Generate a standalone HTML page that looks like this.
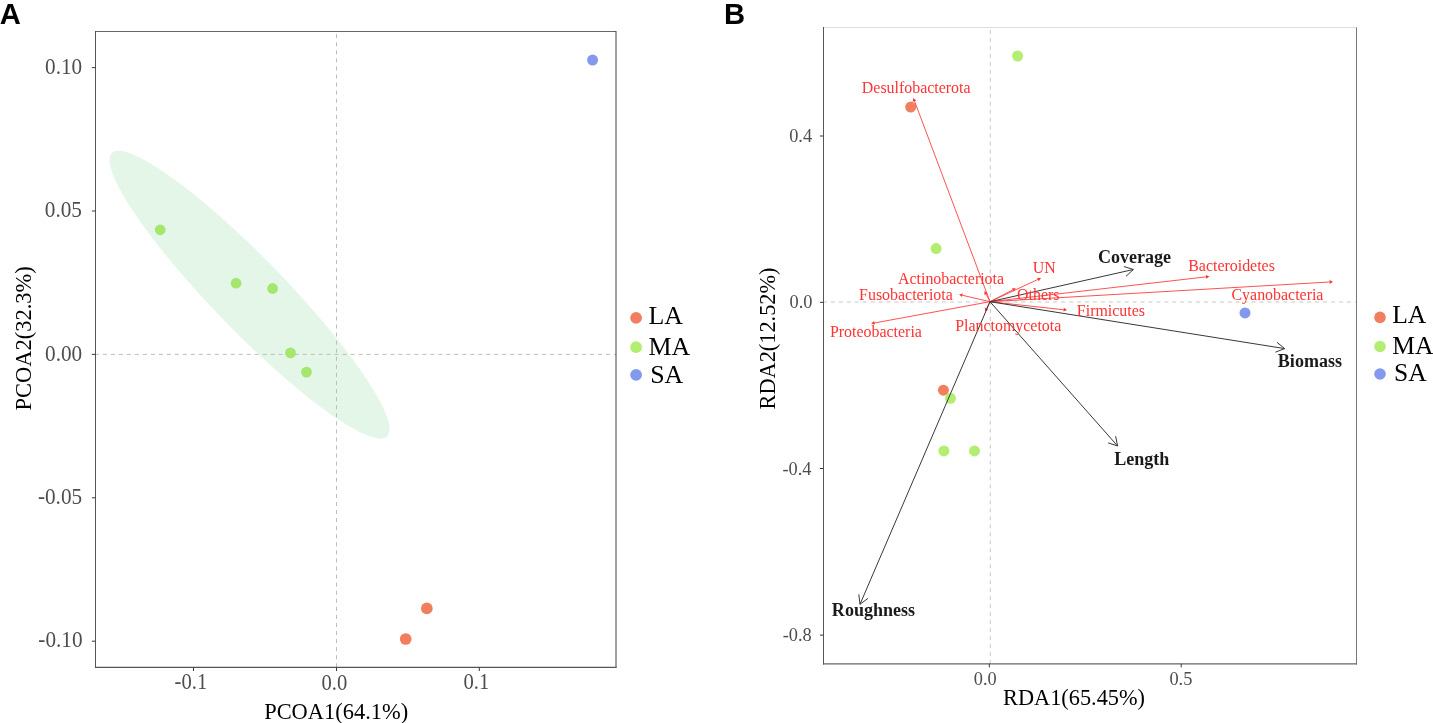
<!DOCTYPE html>
<html><head><meta charset="utf-8"><style>
html,body{margin:0;padding:0;background:#fff;width:1433px;height:723px;overflow:hidden}
svg{display:block;will-change:transform}
text{font-family:"Liberation Serif",serif}
</style></head><body>
<svg width="1433" height="723" viewBox="0 0 1433 723">
<rect width="1433" height="723" fill="#fff"/>

<ellipse cx="249.6" cy="294.75" rx="197.6" ry="36.2" transform="rotate(45.83 249.6 294.75)" fill="#e4f6e8"/>
<line x1="336.5" y1="34.2" x2="336.5" y2="667.4" stroke="#bdbdbd" stroke-width="1" stroke-dasharray="4.03 4.035"/>
<line x1="95.0" y1="354.4" x2="616.0" y2="354.4" stroke="#bdbdbd" stroke-width="1" stroke-dasharray="3.99 3.995"/>
<circle cx="160.2" cy="229.8" r="5.4" fill="#a5e66e"/>
<circle cx="236.1" cy="283.2" r="5.4" fill="#a5e66e"/>
<circle cx="272.6" cy="288.5" r="5.4" fill="#a5e66e"/>
<circle cx="290.5" cy="352.9" r="5.4" fill="#a5e66e"/>
<circle cx="306.5" cy="372.1" r="5.4" fill="#a5e66e"/>
<circle cx="426.8" cy="608.4" r="5.85" fill="#f07f5f"/>
<circle cx="405.7" cy="639.0" r="5.85" fill="#f07f5f"/>
<circle cx="592.6" cy="60.1" r="5.5" fill="#8399ee"/>
<line x1="95.5" y1="31.5" x2="616" y2="31.5" stroke="#666" stroke-width="1"/>
<line x1="616" y1="31" x2="616" y2="667.9" stroke="#444" stroke-width="1"/>
<line x1="95" y1="667.4" x2="616.5" y2="667.4" stroke="#555" stroke-width="1.1"/>
<line x1="95.5" y1="31" x2="95.5" y2="667.9" stroke="#555" stroke-width="1"/>
<line x1="193.5" y1="667.4" x2="193.5" y2="671.0" stroke="#383838" stroke-width="1"/>
<line x1="336.5" y1="667.4" x2="336.5" y2="671.0" stroke="#383838" stroke-width="1"/>
<line x1="479.3" y1="667.4" x2="479.3" y2="671.0" stroke="#383838" stroke-width="1"/>
<line x1="91.9" y1="67.6" x2="95.4" y2="67.6" stroke="#383838" stroke-width="1"/>
<line x1="91.9" y1="211.0" x2="95.4" y2="211.0" stroke="#383838" stroke-width="1"/>
<line x1="91.9" y1="354.4" x2="95.4" y2="354.4" stroke="#383838" stroke-width="1"/>
<line x1="91.9" y1="497.8" x2="95.4" y2="497.8" stroke="#383838" stroke-width="1"/>
<line x1="91.9" y1="641.2" x2="95.4" y2="641.2" stroke="#383838" stroke-width="1"/>
<circle cx="636.1" cy="317.9" r="5.9" fill="#f07f5f"/>
<circle cx="636.1" cy="347.2" r="5.9" fill="#b3ee73"/>
<circle cx="636.1" cy="374.8" r="5.9" fill="#8399ee"/>
<line x1="990.3" y1="29.9" x2="990.3" y2="663.8" stroke="#c8c8c8" stroke-width="1" stroke-dasharray="3.99 3.985"/>
<line x1="823.06" y1="302.0" x2="1356.3" y2="302.0" stroke="#c8c8c8" stroke-width="1" stroke-dasharray="3.97 3.9675"/>
<circle cx="910.7" cy="107.1" r="5.5" fill="#f07f5f"/>
<circle cx="943.4" cy="390.2" r="5.5" fill="#f07f5f"/>
<circle cx="1017.6" cy="56.0" r="5.5" fill="#b3ee73"/>
<circle cx="936.1" cy="248.6" r="5.5" fill="#b3ee73"/>
<circle cx="950.5" cy="398.3" r="5.5" fill="#b3ee73"/>
<circle cx="943.9" cy="450.9" r="5.5" fill="#b3ee73"/>
<circle cx="974.5" cy="450.9" r="5.5" fill="#b3ee73"/>
<circle cx="1245" cy="312.9" r="5.5" fill="#8399ee"/>
<line x1="990.0" y1="301.7" x2="914.50" y2="101.08" stroke="#ff3333" stroke-width="0.85"/>
<path d="M913.30 97.90 L916.28 100.41 L912.72 101.75 Z" fill="#ff3333"/>
<line x1="990.0" y1="301.7" x2="986.05" y2="294.02" stroke="#ff3333" stroke-width="0.85"/>
<path d="M984.50 291.00 L987.74 293.16 L984.36 294.89 Z" fill="#ff3333"/>
<line x1="990.0" y1="301.7" x2="962.41" y2="295.27" stroke="#ff3333" stroke-width="0.85"/>
<path d="M959.10 294.50 L962.84 293.42 L961.98 297.12 Z" fill="#ff3333"/>
<line x1="990.0" y1="301.7" x2="1037.92" y2="279.43" stroke="#ff3333" stroke-width="0.85"/>
<path d="M1041.00 278.00 L1038.72 281.16 L1037.12 277.71 Z" fill="#ff3333"/>
<line x1="990.0" y1="301.7" x2="1012.78" y2="289.87" stroke="#ff3333" stroke-width="0.85"/>
<path d="M1015.80 288.30 L1013.66 291.55 L1011.91 288.18 Z" fill="#ff3333"/>
<line x1="990.0" y1="301.7" x2="874.54" y2="322.98" stroke="#ff3333" stroke-width="0.85"/>
<path d="M871.20 323.60 L874.20 321.12 L874.89 324.85 Z" fill="#ff3333"/>
<line x1="990.0" y1="301.7" x2="986.56" y2="308.38" stroke="#ff3333" stroke-width="0.85"/>
<path d="M985.00 311.40 L984.87 307.51 L988.25 309.25 Z" fill="#ff3333"/>
<line x1="990.0" y1="301.7" x2="1063.62" y2="309.73" stroke="#ff3333" stroke-width="0.85"/>
<path d="M1067.00 310.10 L1063.41 311.62 L1063.83 307.84 Z" fill="#ff3333"/>
<line x1="990.0" y1="301.7" x2="1206.02" y2="276.89" stroke="#ff3333" stroke-width="0.85"/>
<path d="M1209.40 276.50 L1206.24 278.78 L1205.81 275.00 Z" fill="#ff3333"/>
<line x1="990.0" y1="301.7" x2="1329.61" y2="282.00" stroke="#ff3333" stroke-width="0.85"/>
<path d="M1333.00 281.80 L1329.72 283.89 L1329.50 280.10 Z" fill="#ff3333"/>
<line x1="990.0" y1="301.7" x2="1133.40" y2="269.50" stroke="#383838" stroke-width="1"/>
<path d="M1123.85 266.52 L1133.40 269.50 L1126.05 276.28" fill="none" stroke="#383838" stroke-width="1"/>
<line x1="990.0" y1="301.7" x2="1284.70" y2="348.60" stroke="#383838" stroke-width="1"/>
<path d="M1276.93 342.30 L1284.70 348.60 L1275.36 352.18" fill="none" stroke="#383838" stroke-width="1"/>
<line x1="990.0" y1="301.7" x2="1117.60" y2="446.00" stroke="#383838" stroke-width="1"/>
<path d="M1115.61 436.20 L1117.60 446.00 L1108.12 442.82" fill="none" stroke="#383838" stroke-width="1"/>
<line x1="990.0" y1="301.7" x2="860.00" y2="604.30" stroke="#383838" stroke-width="1"/>
<path d="M868.01 598.32 L860.00 604.30 L858.82 594.37" fill="none" stroke="#383838" stroke-width="1"/>
<line x1="823.5" y1="27.5" x2="1356.5" y2="27.5" stroke="#ddd" stroke-width="1"/>
<line x1="1356.5" y1="27.5" x2="1356.5" y2="664.5" stroke="#777" stroke-width="1"/>
<line x1="823" y1="663.9" x2="1357" y2="663.9" stroke="#666" stroke-width="1.4"/>
<line x1="823.5" y1="27" x2="823.5" y2="664.5" stroke="#555" stroke-width="1"/>
<line x1="989.3" y1="663.8" x2="989.3" y2="667.4" stroke="#383838" stroke-width="1"/>
<line x1="1181.2" y1="663.8" x2="1181.2" y2="667.4" stroke="#383838" stroke-width="1"/>
<line x1="819.9" y1="136.0" x2="823.4" y2="136.0" stroke="#383838" stroke-width="1"/>
<line x1="819.9" y1="302.3" x2="823.4" y2="302.3" stroke="#383838" stroke-width="1"/>
<line x1="819.9" y1="468.5" x2="823.4" y2="468.5" stroke="#383838" stroke-width="1"/>
<line x1="819.9" y1="635.1" x2="823.4" y2="635.1" stroke="#383838" stroke-width="1"/>
<circle cx="1380" cy="317.4" r="5.8" fill="#f07f5f"/>
<circle cx="1380" cy="346.5" r="5.8" fill="#b3ee73"/>
<circle cx="1380" cy="374.0" r="5.8" fill="#8399ee"/>
<text transform="translate(-0.32 23.88) scale(1.0437 1.0675)" style="font-family:'Liberation Sans'" font-size="28" font-weight="bold" fill="#000">A</text>
<text transform="translate(45.06 73.72) scale(1.0106 1.0613)" style="font-family:'Liberation Serif'" font-size="21" font-weight="normal" fill="#4d4d4d">0.10</text>
<text transform="translate(44.78 216.95) scale(1.0106 1.0613)" style="font-family:'Liberation Serif'" font-size="21" font-weight="normal" fill="#4d4d4d">0.05</text>
<text transform="translate(45.03 360.57) scale(1.0106 1.0613)" style="font-family:'Liberation Serif'" font-size="21" font-weight="normal" fill="#4d4d4d">0.00</text>
<text transform="translate(37.92 503.76) scale(1.0106 1.0613)" style="font-family:'Liberation Serif'" font-size="21" font-weight="normal" fill="#4d4d4d">-0.05</text>
<text transform="translate(38.34 647.35) scale(1.0106 1.0613)" style="font-family:'Liberation Serif'" font-size="21" font-weight="normal" fill="#4d4d4d">-0.10</text>
<text transform="translate(174.56 689.45) scale(0.9825 1.0620)" style="font-family:'Liberation Serif'" font-size="21" font-weight="normal" fill="#4d4d4d">-0.1</text>
<text transform="translate(321.50 689.60) scale(0.9825 1.0620)" style="font-family:'Liberation Serif'" font-size="21" font-weight="normal" fill="#4d4d4d">0.0</text>
<text transform="translate(463.43 689.45) scale(0.9825 1.0620)" style="font-family:'Liberation Serif'" font-size="21" font-weight="normal" fill="#4d4d4d">0.1</text>
<text transform="translate(264.15 719.14) scale(1.0213 1.0546)" style="font-family:'Liberation Serif'" font-size="22" font-weight="normal" fill="#000">PCOA1(64.1%)</text>
<text transform="translate(31.14 410.42) rotate(-90) scale(1.0213 1.0546)" style="font-family:'Liberation Serif'" font-size="22" font-weight="normal" fill="#000">PCOA2(32.3%)</text>
<text transform="translate(648.40 323.90) scale(1.0787 1.0458)" style="font-family:'Liberation Serif'" font-size="24" font-weight="normal" fill="#000">LA</text>
<text transform="translate(648.38 355.14) scale(1.0787 1.0458)" style="font-family:'Liberation Serif'" font-size="24" font-weight="normal" fill="#000">MA</text>
<text transform="translate(650.19 382.51) scale(1.0787 1.0458)" style="font-family:'Liberation Serif'" font-size="24" font-weight="normal" fill="#000">SA</text>
<text transform="translate(724.12 23.82) scale(1.0437 1.0675)" style="font-family:'Liberation Sans'" font-size="28" font-weight="bold" fill="#000">B</text>
<text transform="translate(789.19 141.80) scale(0.9656 1.0160)" style="font-family:'Liberation Serif'" font-size="19" font-weight="normal" fill="#4d4d4d">0.4</text>
<text transform="translate(789.53 308.45) scale(0.9656 1.0160)" style="font-family:'Liberation Serif'" font-size="19" font-weight="normal" fill="#4d4d4d">0.0</text>
<text transform="translate(782.47 474.55) scale(0.9656 1.0160)" style="font-family:'Liberation Serif'" font-size="19" font-weight="normal" fill="#4d4d4d">-0.4</text>
<text transform="translate(782.70 640.80) scale(0.9656 1.0160)" style="font-family:'Liberation Serif'" font-size="19" font-weight="normal" fill="#4d4d4d">-0.8</text>
<text transform="translate(973.73 685.15) scale(0.9656 1.0160)" style="font-family:'Liberation Serif'" font-size="19" font-weight="normal" fill="#4d4d4d">0.0</text>
<text transform="translate(1169.38 685.13) scale(0.9656 1.0160)" style="font-family:'Liberation Serif'" font-size="19" font-weight="normal" fill="#4d4d4d">0.5</text>
<text transform="translate(1003.02 704.71) scale(1.0148 1.0200)" style="font-family:'Liberation Serif'" font-size="22" font-weight="normal" fill="#000">RDA1(65.45%)</text>
<text transform="translate(775.40 409.48) rotate(-90) scale(1.0148 1.0200)" style="font-family:'Liberation Serif'" font-size="22" font-weight="normal" fill="#000">RDA2(12.52%)</text>
<text transform="translate(1392.16 322.92) scale(1.0651 1.0179)" style="font-family:'Liberation Serif'" font-size="24" font-weight="normal" fill="#000">LA</text>
<text transform="translate(1392.35 354.22) scale(1.0651 1.0179)" style="font-family:'Liberation Serif'" font-size="24" font-weight="normal" fill="#000">MA</text>
<text transform="translate(1394.06 381.32) scale(1.0651 1.0179)" style="font-family:'Liberation Serif'" font-size="24" font-weight="normal" fill="#000">SA</text>
<text transform="translate(861.82 92.90) scale(0.9964 0.9909)" style="font-family:'Liberation Serif'" font-size="16" font-weight="normal" fill="#ff3333">Desulfobacterota</text>
<text transform="translate(897.99 283.52) scale(0.9964 0.9909)" style="font-family:'Liberation Serif'" font-size="16" font-weight="normal" fill="#ff3333">Actinobacteriota</text>
<text transform="translate(859.07 299.82) scale(0.9964 0.9909)" style="font-family:'Liberation Serif'" font-size="16" font-weight="normal" fill="#ff3333">Fusobacteriota</text>
<text transform="translate(829.94 337.07) scale(0.9964 0.9909)" style="font-family:'Liberation Serif'" font-size="16" font-weight="normal" fill="#ff3333">Proteobacteria</text>
<text transform="translate(955.19 330.72) scale(0.9964 0.9909)" style="font-family:'Liberation Serif'" font-size="16" font-weight="normal" fill="#ff3333">Planctomycetota</text>
<text transform="translate(1032.64 272.65) scale(0.9964 0.9909)" style="font-family:'Liberation Serif'" font-size="16" font-weight="normal" fill="#ff3333">UN</text>
<text transform="translate(1017.10 300.02) scale(0.9964 0.9909)" style="font-family:'Liberation Serif'" font-size="16" font-weight="normal" fill="#ff3333">Others</text>
<text transform="translate(1076.87 315.65) scale(0.9964 0.9909)" style="font-family:'Liberation Serif'" font-size="16" font-weight="normal" fill="#ff3333">Firmicutes</text>
<text transform="translate(1188.21 270.67) scale(0.9964 0.9909)" style="font-family:'Liberation Serif'" font-size="16" font-weight="normal" fill="#ff3333">Bacteroidetes</text>
<text transform="translate(1231.49 299.52) scale(0.9964 0.9909)" style="font-family:'Liberation Serif'" font-size="16" font-weight="normal" fill="#ff3333">Cyanobacteria</text>
<text transform="translate(1098.02 262.63) scale(1.0027 1.0388)" style="font-family:'Liberation Serif'" font-size="18" font-weight="bold" fill="#1a1a1a">Coverage</text>
<text transform="translate(1277.84 366.84) scale(1.0027 1.0388)" style="font-family:'Liberation Serif'" font-size="18" font-weight="bold" fill="#1a1a1a">Biomass</text>
<text transform="translate(1114.27 464.64) scale(1.0027 1.0388)" style="font-family:'Liberation Serif'" font-size="18" font-weight="bold" fill="#1a1a1a">Length</text>
<text transform="translate(831.86 616.39) scale(1.0027 1.0388)" style="font-family:'Liberation Serif'" font-size="18" font-weight="bold" fill="#1a1a1a">Roughness</text>
</svg></body></html>
